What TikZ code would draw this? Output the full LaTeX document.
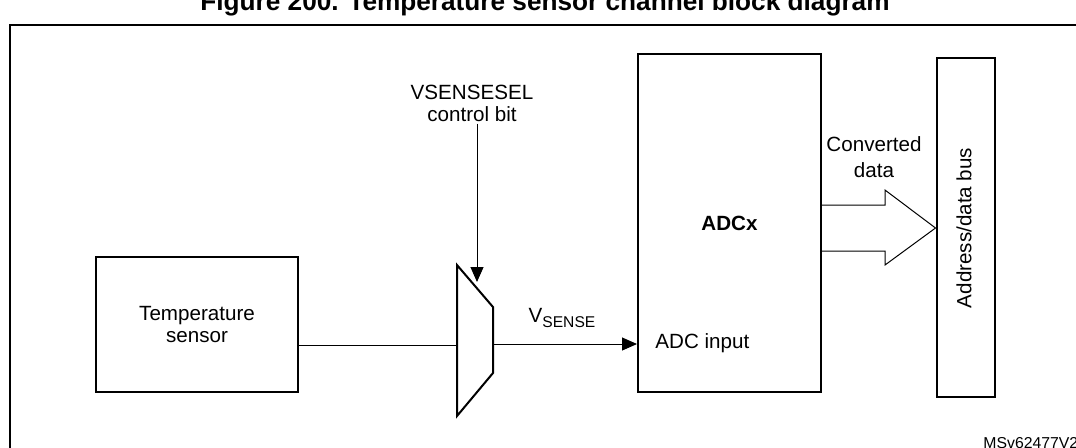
\documentclass[tikz,border=0pt]{standalone}
\usepackage{fontspec}
\setmainfont{Liberation Sans}
\usetikzlibrary{arrows.meta,calc}
\newcommand{\figfont}{\fontsize{10.3}{11}\selectfont}
\tikzset{
  frame-line/.style={line width=1pt},
  block/.style={
    draw=black,
    line width=1pt,
    inner sep=0pt,
    align=center,
    font=\figfont
  },
  label-text/.style={font=\figfont, align=center, inner sep=1pt},
  thin-line/.style={line width=0.5pt},
  tip-arrow/.style={-{Triangle[length=7.5pt,width=6.5pt]}}
}

\begin{document}
\begin{tikzpicture}[x=0.5pt,y=-0.5pt]
  \useasboundingbox (0,0) rectangle (1076,447);
  \node[font=\fontsize{13.1}{15}\selectfont\bfseries, anchor=base, inner sep=0pt]
    (title) at (545,10) {Figure 200. Temperature sensor channel block diagram};
  \draw[frame-line] (10,25) rectangle (1110,480);

  \node[block, minimum width=101pt, minimum height=67.5pt] (sensor) at (197,324.5)
    {Temperature\\sensor};

  \coordinate (mux-a) at (457,265);
  \coordinate (mux-b) at (493,307);
  \coordinate (mux-c) at (493,373);
  \coordinate (mux-d) at (457,416);
  \coordinate (mux-in) at (457,345);
  \coordinate (mux-out) at (493,344);
  \draw[line width=1pt, line join=miter] (mux-a) -- (mux-b) -- (mux-c) -- (mux-d) -- cycle;

  \node[block, minimum width=91.5pt, minimum height=169pt, font=\figfont\bfseries]
    (adc) at (729.5,223) {ADCx};
  \node[font=\figfont, anchor=west, inner sep=0pt] (adc-in) at (655,343) {ADC input};

  \node[block, minimum width=29pt, minimum height=169.75pt] (bus) at (965.5,227.25) {};
  \node[font=\figfont, rotate=90] (bus-label) at (964,228) {Address/data bus};

  \node[label-text] (ctrl) at (472,103) {VSENSESEL\\control bit};
  \coordinate (ctrl-tip) at (477,282);
  \draw[thin-line, tip-arrow] (ctrl.south -| ctrl-tip) -- (ctrl-tip);

  \draw[thin-line] (sensor.east |- mux-in) -- (mux-in);
  \draw[thin-line, tip-arrow] (mux-out) -- (mux-out -| adc.west);
  \node[font=\figfont] (vsense) at (562,318)
    {V\raisebox{-0.4ex}{\fontsize{7.8}{8}\selectfont SENSE}};

  \draw[thin-line, line join=miter] (adc.east |- 0,205) -- (885,205) -- (885,190)
    -- (bus.west |- 0,228) -- (885,265) -- (885,251) -- (adc.east |- 0,251);
  \node[font=\fontsize{10.3}{13}\selectfont, align=center] (conv) at (874,157)
    {Converted\\data};

  \node[font=\fontsize{7.9}{9}\selectfont, anchor=base west, inner sep=0pt]
    (code) at (983,448.5) {MSv62477V2};
\end{tikzpicture}
\end{document}
